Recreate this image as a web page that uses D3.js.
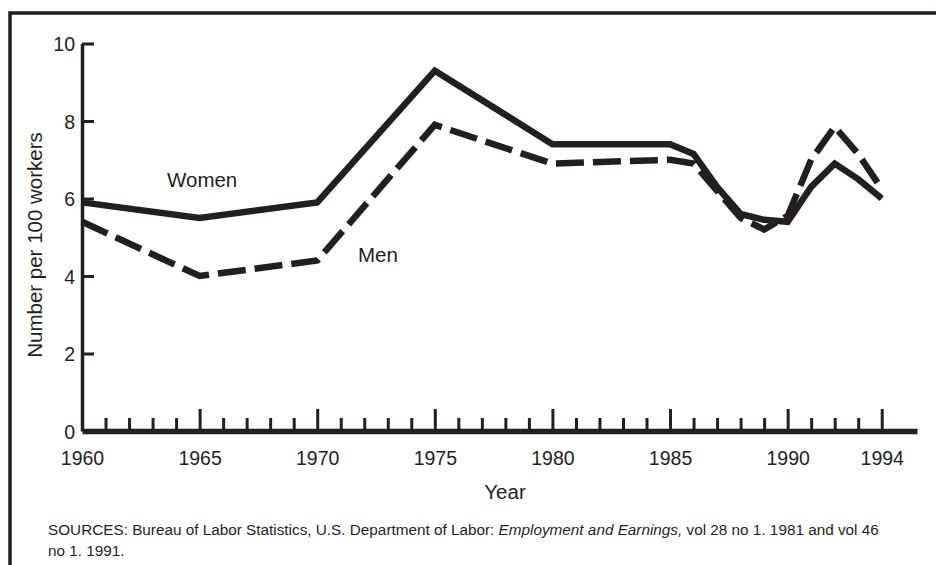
<!DOCTYPE html>
<html>
<head>
<meta charset="utf-8">
<title>Number per 100 workers, 1960-1994</title>
<script src="https://cdnjs.cloudflare.com/ajax/libs/d3/7.8.5/d3.min.js"></script>
<style>
	body { margin: 0; background: #fff; }
	svg { font-family: "Liberation Sans", Arial, Helvetica, sans-serif; fill: #231f20; }
	.axis path { stroke: #231f20; }
	.axis line { stroke: #231f20; stroke-width: 3px; }
	.axis text { font-size: 19.5px; fill: #231f20; }
	.series { fill: none; stroke: #231f20; stroke-width: 6.5px; stroke-linejoin: miter; }
	.lbl { font-size: 20.5px; fill: #231f20; }
	.src { font-size: 15.3px; fill: #231f20; }
</style>
</head>
<body>
<script>
// years
var years = [1960, 1965, 1970, 1975, 1980, 1985, 1986, 1987, 1988, 1989, 1990, 1991, 1992, 1993, 1994];
var women = [5.9, 5.5, 5.9, 9.3, 7.4, 7.4, 7.15, 6.3, 5.6, 5.45, 5.4, 6.3, 6.9, 6.5, 6.0];
var men   = [5.4, 4.0, 4.4, 7.9, 6.9, 7.0, 6.9, 6.2, 5.5, 5.2, 5.55, 7.0, 7.85, 7.15, 6.25];
var yTicks = [0, 2, 4, 6, 8, 10];
var majorYears = [1960, 1965, 1970, 1975, 1980, 1985, 1990, 1994];

var width = 936, height = 565;

var svg = d3.select("body").append("svg")
	.attr("width", width)
	.attr("height", height);

// frame
svg.append("path")
	.attr("d", "M10," + height + "V13H" + width)
	.attr("fill", "none")
	.attr("stroke", "#231f20")
	.attr("stroke-width", 3.5);

var x = d3.scaleLinear().domain([1960, 1995.5]).range([82, 917]);
var y = d3.scaleLinear().domain([0, 10]).range([431, 43.5]);

// minor year ticks
var minor = d3.range(1961, 1995).filter(function(d) { return majorYears.indexOf(d) < 0; });
svg.append("g")
	.attr("class", "axis x minor")
	.attr("transform", "translate(0,431)")
	.call(d3.axisBottom(x).tickValues(minor).tickSizeInner(-13).tickSizeOuter(0).tickFormat(""))
	.call(function(g) { g.select(".domain").remove(); });

var xAxis = svg.append("g")
	.attr("class", "axis x")
	.attr("transform", "translate(0,431)")
	.call(d3.axisBottom(x).tickValues(majorYears).tickSizeInner(-22).tickSizeOuter(0).tickPadding(0).tickFormat(d3.format("d")));
xAxis.select(".domain").attr("stroke-width", 5.5);
xAxis.selectAll("text").attr("y", 0).attr("dy", 34);
xAxis.selectAll(".tick").filter(function(d) { return d === 1960; }).select("line").remove();

var yAxis = svg.append("g")
	.attr("class", "axis y")
	.attr("transform", "translate(82,0)")
	.call(d3.axisLeft(y).tickValues(yTicks).tickSizeInner(-12).tickSizeOuter(0).tickPadding(0));
yAxis.select(".domain").attr("stroke-width", 3.5);
yAxis.selectAll("text").attr("x", -7).attr("dy", "0.36em");
yAxis.selectAll(".tick").filter(function(d) { return d === 0; }).select("line").remove();

var line = d3.line()
	.x(function(d, i) { return x(years[i]); })
	.y(function(d) { return y(d); });

svg.append("path")
	.attr("class", "series women")
	.attr("d", line(women));

svg.append("path")
	.attr("class", "series men")
	.attr("stroke-dasharray", "28,9")
	.attr("d", line(men));

svg.append("text").attr("class", "lbl").attr("x", 167).attr("y", 187).text("Women");
svg.append("text").attr("class", "lbl").attr("x", 358).attr("y", 262).text("Men");

svg.append("text").attr("class", "lbl")
	.attr("x", 505).attr("y", 499)
	.attr("text-anchor", "middle")
	.text("Year");

svg.append("text").attr("class", "lbl")
	.attr("transform", "translate(42,245) rotate(-90)")
	.attr("text-anchor", "middle")
	.text("Number per 100 workers");

var src = svg.append("text").attr("class", "src").attr("x", 48).attr("y", 535);
src.append("tspan").text("SOURCES: Bureau of Labor Statistics, U.S. Department of Labor: ");
src.append("tspan").attr("font-style", "italic").text("Employment and Earnings,");
src.append("tspan").text(" vol 28 no 1. 1981 and vol 46");
svg.append("text").attr("class", "src").attr("x", 48).attr("y", 556).text("no 1. 1991.");
</script>
</body>
</html>
